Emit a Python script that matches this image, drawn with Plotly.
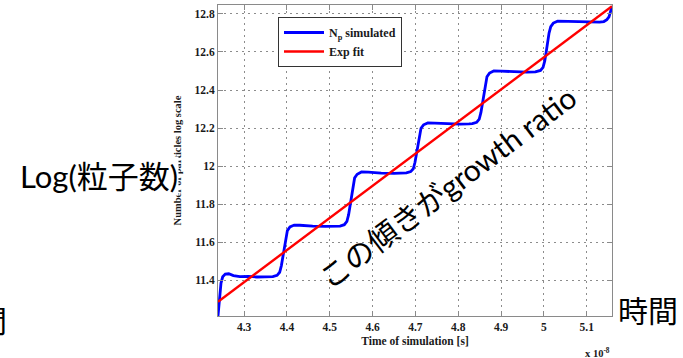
import plotly.graph_objects as go

# Simulated particle count (log scale) against simulation time (units of 1e-8 s)
time_sim = [4.239, 4.241, 4.243, 4.246, 4.250, 4.256, 4.264, 4.275, 4.290, 4.310, 4.330, 4.350,
            4.367, 4.377, 4.383, 4.387, 4.390, 4.392, 4.394, 4.397, 4.401, 4.407, 4.417,
            4.430, 4.460, 4.490, 4.510,
            4.524, 4.534, 4.540, 4.544, 4.547, 4.549, 4.551, 4.554, 4.558, 4.564, 4.574,
            4.590, 4.620, 4.650, 4.670,
            4.679, 4.689, 4.695, 4.699, 4.702, 4.704, 4.706, 4.709, 4.713, 4.719, 4.729,
            4.745, 4.775, 4.805, 4.825,
            4.833, 4.843, 4.849, 4.853, 4.856, 4.858, 4.860, 4.863, 4.867, 4.873, 4.883,
            4.900, 4.930, 4.960, 4.980,
            4.982, 4.992, 4.998, 5.002, 5.005, 5.007, 5.009, 5.012, 5.016, 5.022, 5.032,
            5.050, 5.080, 5.110, 5.130,
            5.140, 5.147, 5.152, 5.156, 5.159]
log_np = [11.212, 11.270, 11.330, 11.385, 11.418, 11.432, 11.434, 11.424, 11.419, 11.420, 11.417, 11.418,
          11.419, 11.426, 11.442, 11.477, 11.519, 11.552, 11.584, 11.626, 11.661, 11.680, 11.690,
          11.689, 11.684, 11.683, 11.684,
          11.685, 11.692, 11.709, 11.745, 11.790, 11.824, 11.857, 11.902, 11.938, 11.957, 11.969,
          11.968, 11.963, 11.962, 11.963,
          11.964, 11.971, 11.986, 12.020, 12.061, 12.093, 12.124, 12.165, 12.199, 12.217, 12.227,
          12.226, 12.222, 12.221, 12.222,
          12.223, 12.230, 12.247, 12.282, 12.326, 12.359, 12.391, 12.435, 12.470, 12.489, 12.500,
          12.499, 12.495, 12.494, 12.495,
          12.496, 12.503, 12.519, 12.553, 12.595, 12.626, 12.657, 12.699, 12.733, 12.752, 12.762,
          12.761, 12.757, 12.756, 12.757,
          12.760, 12.770, 12.785, 12.810, 12.840]

# Exponential fit (a straight line on the log scale)
time_fit = [4.239, 5.159]
log_fit = [11.287, 12.840]

x_ticks = [4.3, 4.4, 4.5, 4.6, 4.7, 4.8, 4.9, 5.0, 5.1]
x_tick_text = ["4.3", "4.4", "4.5", "4.6", "4.7", "4.8", "4.9", "5", "5.1"]
y_ticks = [11.4, 11.6, 11.8, 12.0, 12.2, 12.4, 12.6, 12.8]
y_tick_text = ["11.4", "11.6", "11.8", "12", "12.2", "12.4", "12.6", "12.8"]

serif = "Liberation Serif, Times New Roman, serif"
jp = "Lato, Noto Sans CJK JP, sans-serif"

fig = go.Figure()
fig.add_trace(go.Scatter(x=time_sim, y=log_np, mode="lines", name="N<sub>p</sub> simulated",
                         line=dict(color="#0000ff", width=2.8)))
fig.add_trace(go.Scatter(x=time_fit, y=log_fit, mode="lines", name="Exp fit",
                         line=dict(color="#ff0000", width=2.4)))

axis_common = dict(
    showgrid=True, gridcolor="#8c8c8c", griddash="2px,4px", gridwidth=1,
    showline=True, linecolor="#8a8a8a", linewidth=1, mirror="ticks",
    ticks="inside", ticklen=5, tickcolor="#8a8a8a",
    zeroline=False,
    tickfont=dict(family=serif, size=11.5, color="#1a1a1a", weight="bold"),
)

fig.update_layout(
    width=683, height=358,
    margin=dict(l=218, r=71, t=5, b=42),
    paper_bgcolor="white", plot_bgcolor="white",
    showlegend=True,
    legend=dict(x=(278 - 218) / 394, y=(316 - 17) / 311, xanchor="left", yanchor="top",
                bgcolor="white", bordercolor="#333333", borderwidth=1,
                font=dict(family=serif, size=12, color="#1a1a1a", weight="bold"),
                itemwidth=40, entrywidth=88, entrywidthmode="pixels",
                tracegroupgap=0),
    xaxis=dict(range=[4.239, 5.159], tickvals=x_ticks, ticktext=x_tick_text,
               title=dict(text="Time of simulation [s]", standoff=5,
                          font=dict(family=serif, size=11.5, color="#1a1a1a", weight="bold")),
               **axis_common),
    yaxis=dict(range=[11.212, 12.847], tickvals=y_ticks, ticktext=y_tick_text,
               title=dict(text="Number of particles log scale", standoff=10,
                          font=dict(family=serif, size=10.5, color="#1a1a1a", weight="bold")),
               **axis_common),
)

fig.add_annotation(text="x 10<sup>-8</sup>", xref="paper", yref="paper",
                   x=1.0, y=-0.116, xanchor="right", yanchor="middle", showarrow=False,
                   font=dict(family=serif, size=10.5, color="#1a1a1a", weight="bold"))

fig.add_annotation(text="Log(粒子数)", xref="paper", yref="paper",
                   x=(99 - 218) / 394, y=(316 - 176) / 311, xanchor="center", yanchor="middle",
                   showarrow=False, bgcolor="white", borderpad=0,
                   font=dict(family=jp, size=31, color="black"))

fig.add_annotation(text="この傾きがgrowth ratio", xref="paper", yref="paper",
                   x=(447 - 218) / 394, y=(316 - 187) / 311, xanchor="center", yanchor="middle",
                   textangle=-37, showarrow=False,
                   font=dict(family=jp, size=30, color="black"))

fig.add_annotation(text="時間", xref="paper", yref="paper",
                   x=(648 - 218) / 394, y=(316 - 310) / 311, xanchor="center", yanchor="middle",
                   showarrow=False, font=dict(family=jp, size=30, color="black"))

fig.add_annotation(text="間", xref="paper", yref="paper",
                   x=(9 - 218) / 394, y=(316 - 320) / 311, xanchor="right", yanchor="middle",
                   showarrow=False, font=dict(family=jp, size=30, color="black"))

fig.write_html("out.html")
